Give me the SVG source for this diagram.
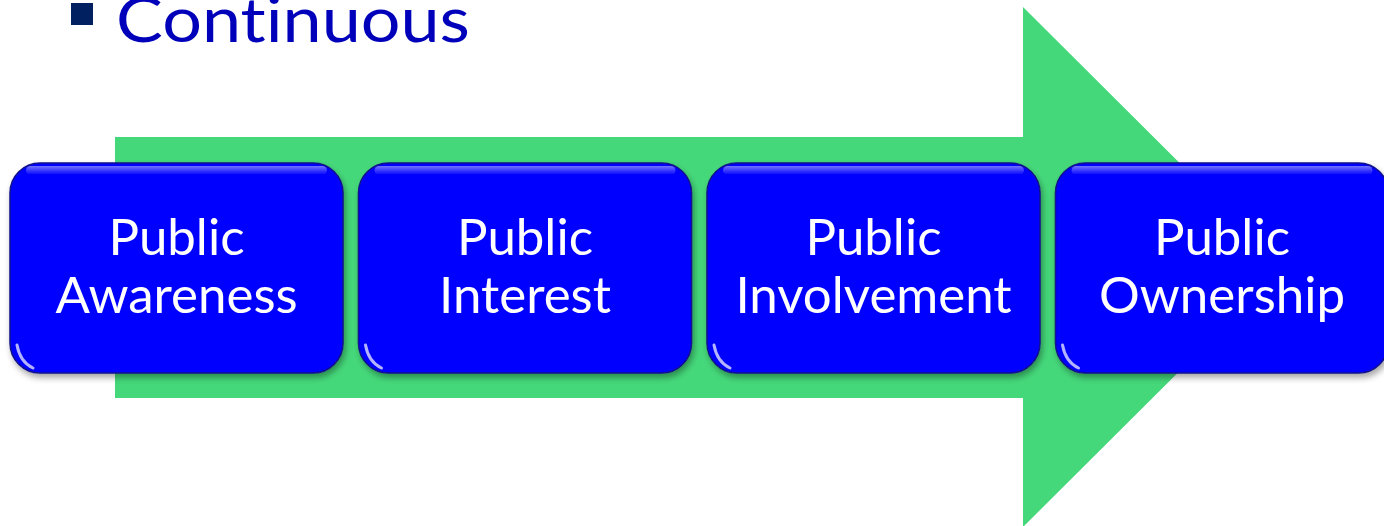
<svg xmlns="http://www.w3.org/2000/svg" width="1384" height="526" viewBox="0 0 1384 526">
<style>
.box{fill:#0000FF;stroke:#12128a;stroke-width:1.5}
.lbl{font-family:Lato,"Open Sans",sans-serif;font-size:51px;fill:#FFFFFF;text-anchor:middle}
.title{font-family:Lato,"Open Sans",sans-serif;font-size:62px;fill:#0000BB;font-variant-ligatures:none}
.hl{fill:url(#hl)}
.glint{fill:none;stroke:#ffffff;stroke-opacity:0.7;stroke-width:3;stroke-linecap:round}
</style>
<defs>
<filter id="sh" x="-10%" y="-10%" width="125%" height="130%">
<feDropShadow dx="2" dy="4" stdDeviation="3" flood-color="#000" flood-opacity="0.35"/>
</filter>
<linearGradient id="hl" x1="0" y1="0" x2="0" y2="1">
<stop offset="0" stop-color="#ffffff" stop-opacity="0.45"/>
<stop offset="1" stop-color="#ffffff" stop-opacity="0"/>
</linearGradient>
</defs>
<rect x="71" y="3" width="22" height="22" fill="#002060"/>
<text class="title" x="116" y="42" textLength="354" lengthAdjust="spacingAndGlyphs">Continuous</text>
<g id="arrow">
<polygon points="115,137 1023,137 1023,7 1284,267 1023,527 1023,398 115,398" fill="#45D87A"/>
</g>
<g id="connectors"></g>
<g id="n1" filter="url(#sh)">
<rect class="box" x="10" y="163" width="333" height="210" rx="30"/>
<rect class="hl" x="26" y="166" width="301" height="9" rx="4.5"/>
<path class="glint" d="M17,345 Q20,362 33,368"/>
<text class="lbl" x="176.5" y="255">Public</text>
<text class="lbl" x="176.5" y="313">Awareness</text>
</g>
<g id="n2" filter="url(#sh)">
<rect class="box" x="358.5" y="163" width="333" height="210" rx="30"/>
<rect class="hl" x="374.5" y="166" width="301" height="9" rx="4.5"/>
<path class="glint" d="M365.5,345 Q368.5,362 381.5,368"/>
<text class="lbl" x="525" y="255">Public</text>
<text class="lbl" x="525" y="313">Interest</text>
</g>
<g id="n3" filter="url(#sh)">
<rect class="box" x="707" y="163" width="333" height="210" rx="30"/>
<rect class="hl" x="723" y="166" width="301" height="9" rx="4.5"/>
<path class="glint" d="M714,345 Q717,362 730,368"/>
<text class="lbl" x="873.5" y="255">Public</text>
<text class="lbl" x="873.5" y="313">Involvement</text>
</g>
<g id="n4" filter="url(#sh)">
<rect class="box" x="1055.5" y="163" width="333" height="210" rx="30"/>
<rect class="hl" x="1071.5" y="166" width="301" height="9" rx="4.5"/>
<path class="glint" d="M1062.5,345 Q1065.5,362 1078.5,368"/>
<text class="lbl" x="1222" y="255">Public</text>
<text class="lbl" x="1222" y="313">Ownership</text>
</g>
</svg>
